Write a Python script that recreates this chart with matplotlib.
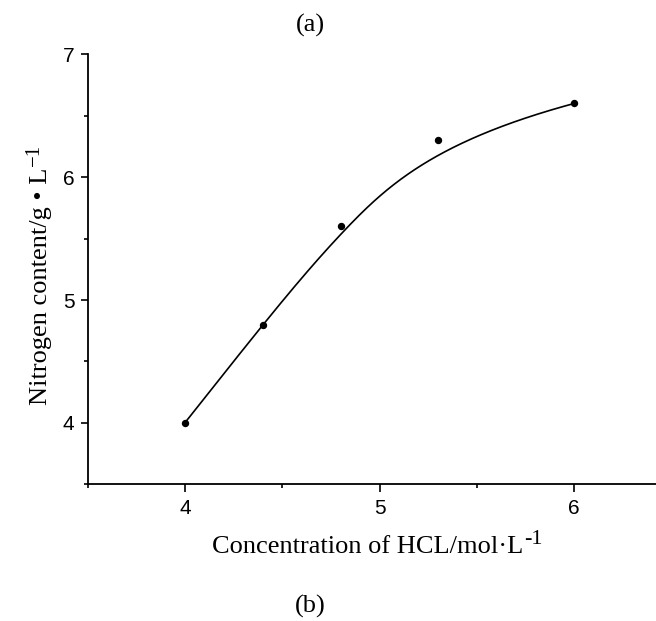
import numpy as np
import matplotlib
matplotlib.use("Agg")
import matplotlib.pyplot as plt
from matplotlib.ticker import MultipleLocator

# data
hcl_conc = [4.0, 4.4, 4.8, 5.3, 6.0]
nitrogen = [4.0, 4.8, 5.6, 6.3, 6.6]
x_ticks = [4, 5, 6]
y_ticks = [4, 5, 6, 7]
panel_top = "(a)"
panel_bottom = "(b)"
x_label_main = "Concentration of HCL/mol\u00b7L"
x_label_sup = "-1"
y_label_main = "Nitrogen content/g \u2022 L"
y_label_sup = "\u22121"

W, H = 656, 621

plt.rcParams["font.family"] = ["Liberation Sans", "DejaVu Sans"]


def bspline(px, py, degree=3, n=400):
    """Clamped B-spline using data points as control points (Origin style)."""
    px = np.asarray(px, float); py = np.asarray(py, float)
    m = len(px)
    k = degree
    inner = np.linspace(0, 1, m - k + 1)[1:-1]
    knots = np.concatenate([np.zeros(k + 1), inner, np.ones(k + 1)])
    t = np.linspace(0, 1, n)
    t[-1] = 1 - 1e-12

    def basis(i, p, tt):
        if p == 0:
            return ((knots[i] <= tt) & (tt < knots[i + 1])).astype(float)
        out = np.zeros_like(tt)
        d1 = knots[i + p] - knots[i]
        d2 = knots[i + p + 1] - knots[i + 1]
        if d1 > 0:
            out += (tt - knots[i]) / d1 * basis(i, p - 1, tt)
        if d2 > 0:
            out += (knots[i + p + 1] - tt) / d2 * basis(i + 1, p - 1, tt)
        return out

    B = np.array([basis(i, k, t) for i in range(m)])
    return B.T @ px, B.T @ py


def fpos(x, y):
    return x / W, 1 - y / H


fig = plt.figure(figsize=(W / 100, H / 100), dpi=100)
ax = fig.add_axes([87.5 / W, 1 - 484.3 / H, 1 - 87.5 / W, (484.3 - 54.3) / H])

cx, cy = bspline(hcl_conc, nitrogen)
ax.plot(cx, cy, color="black", lw=1.2, solid_capstyle="round")
ax.plot(hcl_conc, nitrogen, "o", color="black", ms=4.3)

ax.set_xlim(3.5, 6.42)
ax.set_ylim(3.5, 7.0)
ax.set_xticks(x_ticks)
ax.set_yticks(y_ticks)
ax.xaxis.set_minor_locator(MultipleLocator(0.5))
ax.yaxis.set_minor_locator(MultipleLocator(0.5))
for s in ("top", "right"):
    ax.spines[s].set_visible(False)
for s in ("left", "bottom"):
    ax.spines[s].set_linewidth(1.3)
ax.tick_params(which="major", length=5.4, width=1.2, labelsize=15)
ax.tick_params(which="minor", length=3, width=1.2)
ax.tick_params(axis="x", which="major", pad=5)
ax.tick_params(axis="y", which="major", pad=4)

serif = "Liberation Serif"
fig.canvas.draw()
renderer = fig.canvas.get_renderer()

# x label with large superscript
tx = fig.text(*fpos(212, 553), x_label_main, ha="left", va="baseline",
              fontsize=19, family=serif)
bb = tx.get_window_extent(renderer)
fig.text((bb.x1 + 0.5) / W, 1 - 544 / H, x_label_sup, ha="left", va="baseline",
         fontsize=16, family=serif)

# y label (rotated) with superscript
ty = fig.text(*fpos(47.5, 405), y_label_main, ha="left", va="baseline",
              rotation=90, rotation_mode="anchor", fontsize=19, family=serif)
bb = ty.get_window_extent(renderer)
fig.text((47.5 - 9) / W, (bb.y1 + 2) / H, y_label_sup, ha="left", va="baseline",
         rotation=90, rotation_mode="anchor", fontsize=15, family=serif)

fig.text(*fpos(310, 25), panel_top, ha="center", va="center",
         fontsize=19, family=serif)
fig.text(*fpos(310, 606), panel_bottom, ha="center", va="center",
         fontsize=19, family=serif)

fig.savefig("out.png", dpi=100)
